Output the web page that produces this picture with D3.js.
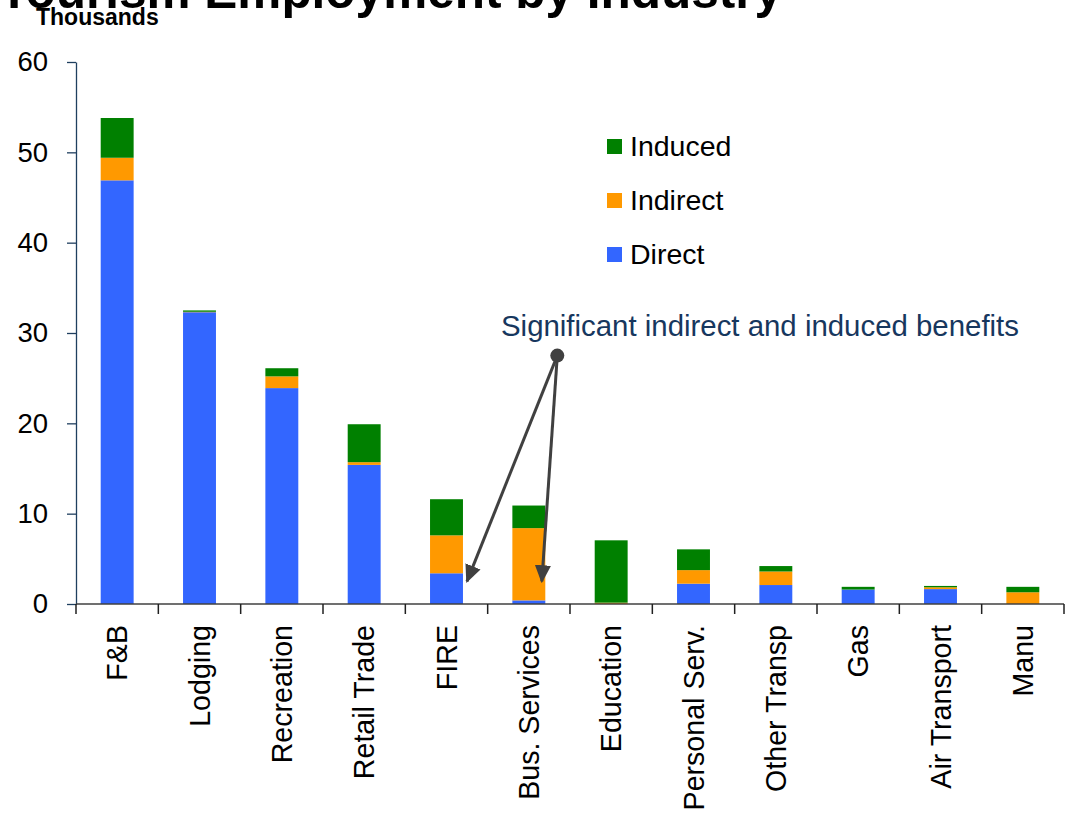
<!DOCTYPE html>
<html>
<head>
<meta charset="utf-8">
<script src="https://cdn.jsdelivr.net/npm/d3@7/dist/d3.min.js"></script>
<style>
  html, body { margin: 0; padding: 0; background: #fff; }
  svg { display: block; font-family: "Liberation Sans", Arial, Helvetica, sans-serif; }
</style>
</head>
<body>
<svg id="chart" width="1065" height="813"></svg>
<script>
// Tourism employment by industry, thousands of jobs
const industries = ["F&B", "Lodging", "Recreation", "Retail Trade", "FIRE", "Bus. Services",
  "Education", "Personal Serv.", "Other Transp", "Gas", "Air Transport", "Manu"];
const direct   = [46.9, 32.3, 23.9, 15.4, 3.4, 0.4, 0.0, 2.25, 2.1, 1.6, 1.65, 0.0];
const indirect = [2.5, 0.05, 1.3, 0.3, 4.2, 8.0, 0.15, 1.5, 1.5, 0.0, 0.2, 1.3];
const induced  = [4.4, 0.15, 0.9, 4.2, 4.0, 2.5, 6.9, 2.3, 0.6, 0.3, 0.15, 0.6];
const seriesNames = ["Direct", "Indirect", "Induced"];
const yTicks = [0, 10, 20, 30, 40, 50, 60];

const colors = { Direct: "#3366FF", Indirect: "#FF9900", Induced: "#008000" };

const rows = industries.map((name, i) => ({
  name, Direct: direct[i], Indirect: indirect[i], Induced: induced[i]
}));

const svg = d3.select("#chart");
const plotLeft = 76, plotRight = 1064, plotTop = 62, plotBottom = 604;

const x = d3.scaleBand().domain(industries).range([plotLeft, plotRight])
  .paddingInner(0.6).paddingOuter(0.3);
const y = d3.scaleLinear().domain([0, 60]).range([plotBottom, plotTop]);

// title (runs off the top edge)
svg.append("text")
  .attr("x", -1).attr("y", 8)
  .attr("font-size", 49.5).attr("font-weight", "bold").attr("fill", "#000")
  .text("Tourism Employment by Industry");

svg.append("text")
  .attr("x", 36).attr("y", 25)
  .attr("font-size", 23).attr("font-weight", "bold").attr("fill", "#000")
  .text("Thousands");

// stacked bars
const stack = d3.stack().keys(seriesNames)(rows);
svg.append("g").selectAll("g").data(stack).join("g")
  .attr("fill", d => colors[d.key])
  .selectAll("rect").data(d => d).join("rect")
  .attr("x", d => x(d.data.name))
  .attr("width", x.bandwidth())
  .attr("y", d => y(d[1]))
  .attr("height", d => Math.max(0, y(d[0]) - y(d[1])));

// y axis
const yAxis = svg.append("g")
  .attr("transform", `translate(${plotLeft},0)`)
  .call(d3.axisLeft(y).tickValues(yTicks).tickSize(9).tickPadding(19).tickSizeOuter(0));
yAxis.select(".domain").attr("stroke", "#1F3F5F").attr("stroke-width", 1.3);
yAxis.selectAll(".tick line").attr("stroke", "#1F3F5F").attr("stroke-width", 1.3);
yAxis.selectAll(".tick text").attr("font-size", 27.5).attr("fill", "#000")
  .attr("font-family", "'Liberation Sans', Arial, sans-serif");

// x axis: baseline with ticks at category boundaries
const step = x.step();
const gap = (step - x.bandwidth()) / 2;
const boundaries = industries.map(c => x(c) - gap)
  .concat([x(industries[industries.length - 1]) + x.bandwidth() + gap]);
const xg = svg.append("g");
xg.append("line")
  .attr("x1", plotLeft).attr("x2", plotRight).attr("y1", plotBottom).attr("y2", plotBottom)
  .attr("stroke", "#404040").attr("stroke-width", 1.5);
xg.selectAll("line.tick").data(boundaries).join("line")
  .attr("class", "tick")
  .attr("x1", d => d).attr("x2", d => d)
  .attr("y1", plotBottom).attr("y2", plotBottom + 10)
  .attr("stroke", "#202020").attr("stroke-width", 1.5);
xg.selectAll("text").data(industries).join("text")
  .attr("transform", d => `translate(${x(d) + x.bandwidth() / 2},${plotBottom + 21}) rotate(-90)`)
  .attr("dy", "0.35em")
  .attr("text-anchor", "end")
  .attr("font-size", 28.6).attr("fill", "#000")
  .text(d => d);

// legend
const legendOrder = ["Induced", "Indirect", "Direct"];
const lg = svg.append("g").attr("transform", "translate(607,139)");
legendOrder.forEach((k, i) => {
  lg.append("rect").attr("x", 0).attr("y", i * 54).attr("width", 15).attr("height", 15)
    .attr("fill", colors[k]);
  lg.append("text").attr("x", 23).attr("y", i * 54 + 17)
    .attr("font-size", 28.5).attr("fill", "#000").text(k);
});

// annotation with callout arrows
const defs = svg.append("defs");
defs.append("marker")
  .attr("id", "arrow").attr("viewBox", "0 0 10 10")
  .attr("refX", 9).attr("refY", 5)
  .attr("markerWidth", 6).attr("markerHeight", 6)
  .attr("markerUnits", "strokeWidth")
  .attr("orient", "auto")
  .append("path").attr("d", "M0,0.5 L10,5 L0,9.5 Z").attr("fill", "#404040");

svg.append("text")
  .attr("x", 501).attr("y", 336)
  .attr("font-size", 29.4).attr("fill", "#17375E")
  .text("Significant indirect and induced benefits");

const origin = { x: x("Bus. Services") + x.bandwidth() + 12, y: y(27.5) };
const targets = [
  { x: x("FIRE") + x.bandwidth() + 4, y: y(2.5) },
  { x: x("Bus. Services") + x.bandwidth() / 2 + 13, y: y(2.5) }
];
svg.append("g").selectAll("line").data(targets).join("line")
  .attr("x1", origin.x).attr("y1", origin.y)
  .attr("x2", d => d.x).attr("y2", d => d.y)
  .attr("stroke", "#404040").attr("stroke-width", 3)
  .attr("marker-end", "url(#arrow)");
svg.append("circle")
  .attr("cx", origin.x).attr("cy", origin.y).attr("r", 7)
  .attr("fill", "#404040");
</script>
</body>
</html>
